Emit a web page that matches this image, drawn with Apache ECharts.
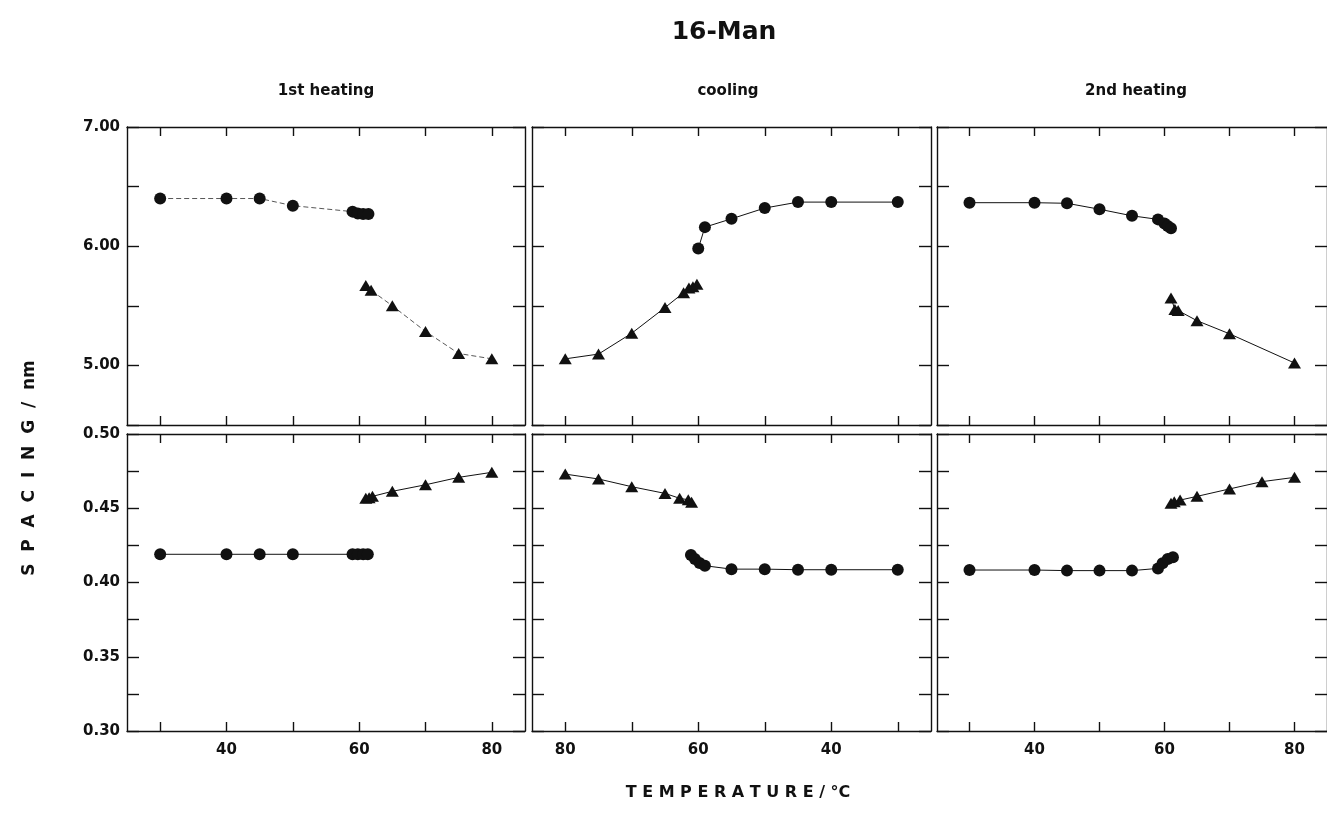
<!DOCTYPE html>
<html lang="en">
<head>
<meta charset="utf-8">
<script src="https://cdn.jsdelivr.net/npm/echarts@6/dist/echarts.min.js"></script>
<style>
  html, body { margin: 0; padding: 0; background: #fff; }
  #chart { width: 1327px; height: 835px; }
</style>
</head>
<body>
<div id="chart"></div>
<script>
// axis ticks / labels
const tempTicks = [30, 40, 50, 60, 70, 80];
const tempLabels = [40, 60, 80];
const longTicks = [4.5, 5.0, 5.5, 6.0, 6.5, 7.0];
const longLabels = [5.0, 6.0, 7.0];
const shortTicks = [0.300, 0.325, 0.350, 0.375, 0.400, 0.425, 0.450, 0.475, 0.500];
const shortLabels = [0.30, 0.35, 0.40, 0.45, 0.50];

// 1st heating, long spacing
const heat1LongCircT = [30, 40, 45, 50, 59, 59.8, 60.6, 61.4];
const heat1LongCircD = [6.40, 6.40, 6.40, 6.34, 6.29, 6.275, 6.27, 6.27];
const heat1LongTriT = [61, 61.8, 65, 70, 75, 80];
const heat1LongTriD = [5.67, 5.63, 5.50, 5.285, 5.10, 5.055];

// cooling, long spacing
const coolLongTriT = [80, 75, 70, 65, 62.2, 61.4, 60.8, 60.2];
const coolLongTriD = [5.055, 5.095, 5.27, 5.485, 5.61, 5.65, 5.66, 5.68];
const coolLongCircT = [60, 59, 55, 50, 45, 40, 30];
const coolLongCircD = [5.98, 6.16, 6.23, 6.32, 6.37, 6.37, 6.37];

// 2nd heating, long spacing
const heat2LongCircT = [30, 40, 45, 50, 55, 59, 60, 60.5, 61];
const heat2LongCircD = [6.365, 6.365, 6.36, 6.31, 6.255, 6.225, 6.19, 6.17, 6.15];
const heat2LongTriT = [61, 61.6, 62.1, 65, 70, 80];
const heat2LongTriD = [5.565, 5.47, 5.46, 5.375, 5.265, 5.02];

// 1st heating, short spacing
const heat1ShortCircT = [30, 40, 45, 50, 59, 59.8, 60.6, 61.3];
const heat1ShortCircD = [0.419, 0.419, 0.419, 0.419, 0.419, 0.419, 0.419, 0.419];
const heat1ShortTriT = [61, 61.5, 62, 65, 70, 75, 80];
const heat1ShortTriD = [0.4567, 0.457, 0.458, 0.4614, 0.4658, 0.4708, 0.4742];

// cooling, short spacing
const coolShortTriT = [80, 75, 70, 65, 62.8, 61.5, 61];
const coolShortTriD = [0.473, 0.4697, 0.4645, 0.460, 0.4567, 0.4557, 0.454];
const coolShortCircT = [61.1, 60.5, 59.8, 59, 55, 50, 45, 40, 30];
const coolShortCircD = [0.4185, 0.4158, 0.4131, 0.4113, 0.409, 0.409, 0.4086, 0.4086, 0.4086];

// 2nd heating, short spacing
const heat2ShortCircT = [30, 40, 45, 50, 55, 59, 59.7, 60.5, 61.3];
const heat2ShortCircD = [0.4084, 0.4084, 0.408, 0.408, 0.408, 0.4095, 0.4129, 0.4158, 0.417];
const heat2ShortTriT = [61, 61.5, 62.4, 65, 70, 75, 80];
const heat2ShortTriD = [0.4533, 0.4544, 0.4555, 0.458, 0.463, 0.4679, 0.4708];

const ink = '#111';
const font = 'DejaVu Sans';

const cols = [{left: 127, width: 398}, {left: 532, width: 399}, {left: 937, width: 398}];
const rows = [{top: 127, height: 298}, {top: 434, height: 297}];

let grids = [];
rows.forEach(r => cols.forEach(c => grids.push({left: c.left, width: c.width, top: r.top, height: r.height})));

const lineStyle = {color: ink, width: 1.4};
const labelStyle = {color: ink, fontFamily: font, fontWeight: 'bold', fontSize: 15};

let xAxes = [], yAxes = [];
grids.forEach((g, gi) => {
  let col = gi % 3, row = Math.floor(gi / 3);
  let xBase = {
    type: 'value', gridIndex: gi, min: 25, max: 85, inverse: col == 1,
    splitLine: {show: false},
    axisLine: {show: true, onZero: false, lineStyle: lineStyle},
    axisTick: {show: true, inside: true, length: 9, customValues: tempTicks, lineStyle: lineStyle}
  };
  xAxes.push(Object.assign({}, xBase, {
    position: 'bottom',
    axisLabel: {show: row == 1, customValues: tempLabels, margin: 12, ...labelStyle}
  }));
  xAxes.push(Object.assign({}, xBase, {position: 'top', axisLabel: {show: false}}));

  let ticks = row == 0 ? longTicks : shortTicks;
  let labs = row == 0 ? longLabels : shortLabels;
  let yBase = {
    type: 'value', gridIndex: gi,
    min: row == 0 ? 4.5 : 0.3, max: row == 0 ? 7.0 : 0.5,
    splitLine: {show: false},
    axisLine: {show: true, onZero: false, lineStyle: lineStyle},
    axisTick: {show: true, inside: true, length: 12, customValues: ticks, lineStyle: lineStyle}
  };
  yAxes.push(Object.assign({}, yBase, {
    position: 'left',
    axisLabel: {show: col == 0, customValues: labs, margin: 7, formatter: v => v.toFixed(2), ...labelStyle}
  }));
  yAxes.push(Object.assign({}, yBase, {position: 'right', axisLabel: {show: false}}));
});

function pts(t, d) { return t.map((v, i) => [v, d[i]]); }

function mk(gi, t, d, shape, ls) {
  return {
    type: 'line', xAxisIndex: 2 * gi, yAxisIndex: 2 * gi,
    data: pts(t, d),
    symbol: shape,
    symbolSize: shape == 'circle' ? 12 : [13, 11],
    itemStyle: {color: ink},
    lineStyle: ls || {color: ink, width: 1},
    animation: false
  };
}

const faint = {color: '#444', width: 0.9, type: [5, 3]};

let series = [
  mk(0, heat1LongCircT, heat1LongCircD, 'circle', faint),
  mk(0, heat1LongTriT, heat1LongTriD, 'triangle', faint),
  mk(1, coolLongTriT, coolLongTriD, 'triangle'),
  mk(1, coolLongCircT, coolLongCircD, 'circle'),
  mk(2, heat2LongCircT, heat2LongCircD, 'circle'),
  mk(2, heat2LongTriT, heat2LongTriD, 'triangle'),
  mk(3, heat1ShortCircT, heat1ShortCircD, 'circle'),
  mk(3, heat1ShortTriT, heat1ShortTriD, 'triangle'),
  mk(4, coolShortTriT, coolShortTriD, 'triangle'),
  mk(4, coolShortCircT, coolShortCircD, 'circle'),
  mk(5, heat2ShortCircT, heat2ShortCircD, 'circle'),
  mk(5, heat2ShortTriT, heat2ShortTriD, 'triangle')
];

function txt(x, y, text, size, rot) {
  return {
    type: 'text', x: x, y: y, rotation: rot || 0,
    style: {text: text, fill: ink, font: 'bold ' + size + 'px ' + font, align: 'center', verticalAlign: 'middle'}
  };
}

let chart = echarts.init(document.getElementById('chart'));
chart.setOption({
  backgroundColor: '#fff',
  animation: false,
  grid: grids,
  xAxis: xAxes,
  yAxis: yAxes,
  series: series,
  graphic: [
    txt(724, 32, '16-Man', 25),
    txt(326, 91, '1st heating', 15),
    txt(728, 91, 'cooling', 15),
    txt(1136, 91, '2nd heating', 15),
    txt(30, 468, 'S  P  A  C  I  N  G  /  nm', 17, Math.PI / 2),
    txt(738, 793, 'T E M P E R A T U R E / °C', 16)
  ]
});
</script>
</body>
</html>
